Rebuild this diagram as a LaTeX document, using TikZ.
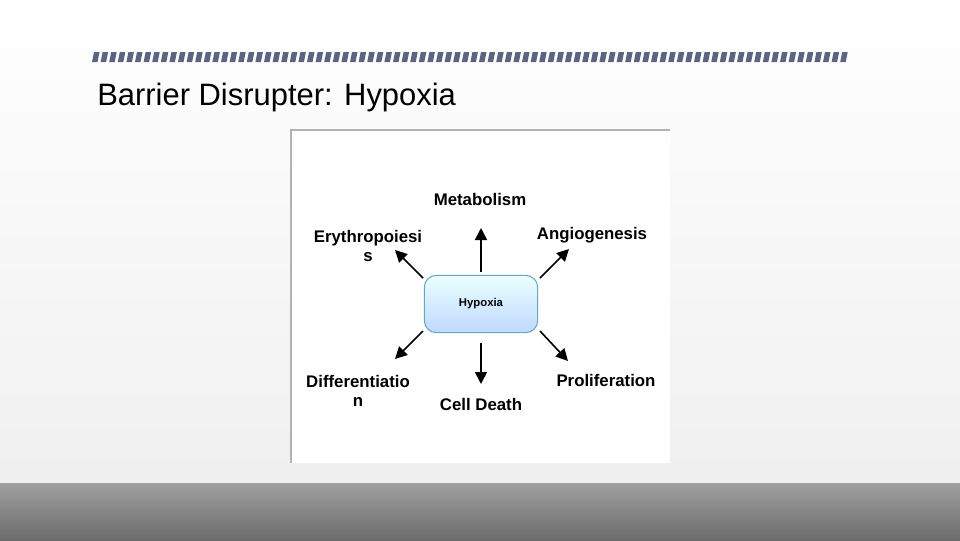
\documentclass[tikz,border=0pt]{standalone}
\usepackage{fontspec}
\setmainfont{Liberation Sans}
\usetikzlibrary{arrows.meta}
\definecolor{stripe}{HTML}{5B6480}
\tikzset{
  lbl/.style={font=\bfseries\fontsize{12.6}{14.5}\selectfont, align=center, inner sep=0pt},
  arr/.style={line width=1.2pt, -{Triangle[length=9pt,width=9pt]}},
  hyp/.style={draw=cyan!45!gray, line width=0.8pt, rounded corners=9pt, top color=cyan!8, bottom color=cyan!40!blue!25, minimum width=85pt, minimum height=43pt, inner sep=0pt}
}
\begin{document}
\begin{tikzpicture}[x=0.75pt,y=-0.75pt]
\useasboundingbox (0,0) rectangle (960,540);
\shade[top color=white, bottom color=gray!12] (0,0) rectangle (960,483);
\shade[top color=gray!75, bottom color=gray!85!black] (0,483) rectangle (960,540);
\foreach \i in {0,...,87} {
  \fill[stripe] ({92+\i*8.6+2},52) -- ({92+\i*8.6+7.5},52) -- ({92+\i*8.6+5.5},62) -- ({92+\i*8.6},62) -- cycle;
}
\node[anchor=west, inner sep=0pt, font=\fontsize{23.2}{27}\selectfont] (title) at (97,97) {Barrier Disrupter: Hypoxia};
\fill[white] (290,130) rectangle (670,463);
\draw[gray!60, line width=1pt] (291,463) -- (291,130) -- (670,130);
\node[hyp] (h) at (481,304) {};
\node[font=\bfseries\fontsize{8.5}{10}\selectfont] (ht) at (481,304) {Hypoxia};
\node[lbl] (met) at (480,199) {Metabolism};
\node[lbl] (ery) at (368,246) {Erythropoiesi\\s};
\node[lbl] (ang) at (592,235) {Angiogenesis};
\node[lbl] (dif) at (358,391) {Differentiatio\\n};
\node[lbl] (pro) at (606,380) {Proliferation};
\node[lbl] (cd) at (481,404) {Cell Death};
\coordinate (u) at (481,228);
\coordinate (d) at (481,384);
\coordinate (lu) at (395,250);
\coordinate (ru) at (569,249);
\coordinate (ld) at (395,359);
\coordinate (rd) at (568,361);
\draw[arr] (481,272) -- (u);
\draw[arr] (481,343) -- (d);
\draw[arr] (423,278) -- (lu);
\draw[arr] (540,278) -- (ru);
\draw[arr] (423,331) -- (ld);
\draw[arr] (540,331) -- (rd);
\end{tikzpicture}
\end{document}
